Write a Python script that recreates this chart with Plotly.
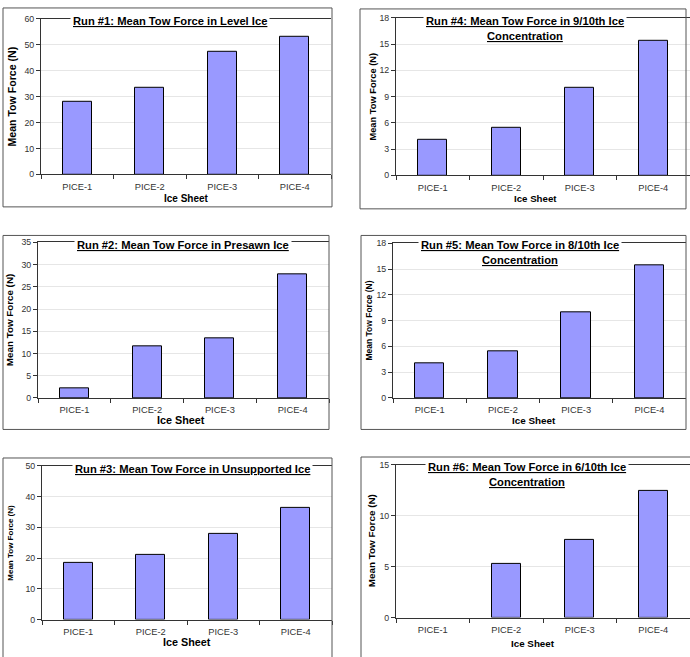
import plotly.graph_objects as go

W, H = 690, 657

categories = ["PICE-1", "PICE-2", "PICE-3", "PICE-4"]
run1_level = [28.0, 33.4, 47.2, 53.0]
run2_presawn = [2.1, 11.5, 13.5, 27.8]
run3_unsupported = [18.3, 20.9, 28.0, 36.2]
run4_nine_tenths = [4.05, 5.4, 10.0, 15.4]
run5_eight_tenths = [4.05, 5.4, 10.0, 15.4]
run6_six_tenths = [None, 5.3, 7.6, 12.4]

titles = [
    ["Run #1: Mean Tow Force in Level Ice"],
    ["Run #2: Mean Tow Force in Presawn Ice"],
    ["Run #3: Mean Tow Force in Unsupported Ice"],
    ["Run #4: Mean Tow Force in 9/10th Ice", "Concentration"],
    ["Run #5: Mean Tow Force in 8/10th Ice", "Concentration"],
    ["Run #6: Mean Tow Force in 6/10th Ice", "Concentration"],
]
y_title = "Mean Tow Force (N)"
x_title = "Ice Sheet"
y_max = [60, 35, 50, 18, 18, 15]
y_step = [10, 5, 10, 3, 3, 5]
series = [run1_level, run2_presawn, run3_unsupported,
          run4_nine_tenths, run5_eight_tenths, run6_six_tenths]

# layout (pixel geometry)
panels = [
    dict(box=(3, 3, 332, 205), plot=(41, 14, 331, 172), tx=170, ty=[16], yt=(12, 10.6), xt=(186, 196, 10)),
    dict(box=(3, 234, 329, 431), plot=(38, 241, 329, 399), tx=183, ty=[244], yt=(9, 9.8), xt=(181, 421, 10.8)),
    dict(box=(3, 460, 332, 700), plot=(42, 468, 332, 624), tx=192, ty=[471], yt=(11, 8), xt=(187, 647, 10.8)),
    dict(box=(360, 4, 686, 207), plot=(396, 13, 690, 173), tx=525, ty=[16, 31], yt=(373, 9.3), xt=(535, 196, 9.7)),
    dict(box=(361, 234, 686, 431), plot=(393, 242, 686, 399), tx=520, ty=[244, 259], yt=(369, 8.5), xt=(534, 422, 9.9)),
    dict(box=(361, 459, 700, 700), plot=(396, 467, 690, 622), tx=527, ty=[469, 484], yt=(371, 9.9), xt=(533, 648, 9.8)),
]
TITLE_SIZE = 11.2

FONT = "Arial, Liberation Sans, sans-serif"
fig = go.Figure()
shapes = []
annotations = []

def px(x):
    return x / W

def py(y):
    return 1 - y / H

for i, (p, vals) in enumerate(zip(panels, series)):
    n = "" if i == 0 else str(i + 1)
    fig.add_trace(go.Bar(
        x=categories, y=vals, width=0.4,
        marker=dict(color="#9999FF", line=dict(color="#000000", width=1)),
        xaxis="x" + n, yaxis="y" + n, showlegend=False, hoverinfo="x+y",
    ))
    x0, y0, x1, y1 = p["plot"]
    fig.update_layout(**{
        "xaxis" + n: dict(
            domain=[px(x0), px(x1)], anchor="y" + n, type="category",
            range=[-0.5, 3.5], showgrid=False, zeroline=False,
            showline=True, linecolor="#333333", linewidth=1, mirror=True,
            ticks="outside", tickson="boundaries", ticklen=4, tickcolor="#333333",
            ticklabelstandoff=3,
            tickfont=dict(family=FONT, size=9.3, color="#333333"),
            fixedrange=True,
        ),
        "yaxis" + n: dict(
            domain=[py(y1), py(y0)], anchor="x" + n,
            range=[0, y_max[i]], dtick=y_step[i], tick0=0,
            showgrid=True, gridcolor="#e6e6e6", gridwidth=1, zeroline=False,
            showline=True, linecolor="#333333", linewidth=1,
            ticks="outside", ticklen=4, tickcolor="#333333",
            tickfont=dict(family=FONT, size=8.8, color="#333333"),
            fixedrange=True,
        ),
    })
    bx0, by0, bx1, by1 = p["box"]
    shapes.append(dict(type="rect", xref="paper", yref="paper",
                       x0=px(bx0), x1=px(bx1), y0=py(by1), y1=py(by0),
                       line=dict(color="#555555", width=1), layer="above"))
    for k, (line, ty) in enumerate(zip(titles[i], p["ty"])):
        annotations.append(dict(
            text="<b><u>" + line + "</u></b>", xref="paper", yref="paper",
            x=px(p["tx"]), y=py(ty), xanchor="center", yanchor="middle",
            showarrow=False, bgcolor="white" if k == 0 else None, borderpad=2,
            font=dict(family=FONT, size=TITLE_SIZE, color="#000000"),
        ))
    ytx, yts = p["yt"]
    annotations.append(dict(
        text="<b>" + y_title + "</b>", xref="paper", yref="paper",
        x=px(ytx), y=py((y0 + y1) / 2), xanchor="center", yanchor="middle",
        textangle=-90, showarrow=False,
        font=dict(family=FONT, size=yts, color="#000000"),
    ))
    xtx, xty, xts = p["xt"]
    annotations.append(dict(
        text="<b>" + x_title + "</b>", xref="paper", yref="paper",
        x=px(xtx), y=py(xty), xanchor="center", yanchor="middle",
        showarrow=False,
        font=dict(family=FONT, size=xts, color="#000000"),
    ))

fig.update_layout(
    width=W, height=H, margin=dict(l=0, r=0, t=0, b=0),
    paper_bgcolor="white", plot_bgcolor="white",
    shapes=shapes, annotations=annotations, bargap=0,
    font=dict(family=FONT),
)

fig.write_html("out.html")
